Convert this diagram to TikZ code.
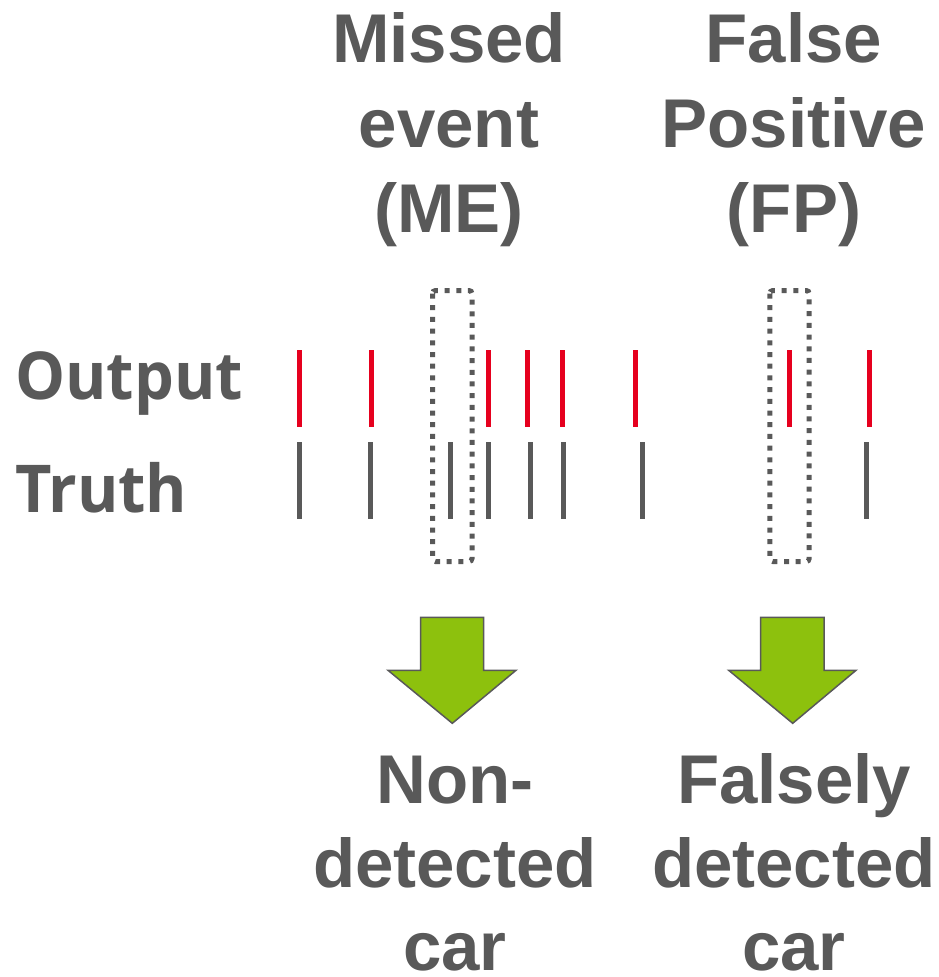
\documentclass[tikz,border=0pt]{standalone}
\usepackage{fontspec}
\setmainfont{Liberation Sans}
\newfontfamily\labelfont[FakeStretch=0.955]{Open Sans}
\definecolor{txtgray}{HTML}{595959}
\definecolor{evtred}{HTML}{E6001E}
\definecolor{arrgreen}{HTML}{8DC10D}
\begin{document}
\begin{tikzpicture}[x=1pt,y=-1pt,
  title/.style={inner sep=0pt,anchor=base,text=txtgray,
    font=\fontsize{69}{85}\selectfont\bfseries},
  rowlabel/.style={inner sep=0pt,anchor=base west,text=txtgray,
    font=\labelfont\fontsize{66}{80}\selectfont\bfseries},
  outtick/.style={draw=evtred,line width=5pt},
  truthtick/.style={draw=txtgray,line width=5pt},
  window/.style={draw=txtgray,line width=5pt,dash pattern=on 5pt off 6.7pt,rounded corners=3pt},
  bigarrow/.style={fill=arrgreen,draw=txtgray,line width=1.5pt,line join=miter}]
\useasboundingbox (0,0) rectangle (939,977);

% column headings
\node[title] (me1) at (449,62) {Missed};
\node[title] (me2) at (449,147) {event};
\node[title] (me3) at (449,232) {(ME)};
\node[title] (fp1) at (794,62) {False};
\node[title] (fp2) at (794,147) {Positive};
\node[title] (fp3) at (794,232) {(FP)};

% row labels
\node[rowlabel] (out) at (15,399) {Output};
\node[rowlabel] (tru) at (15,512) {Truth};

% output events
\foreach \x in {299.5,371.3,488.3,527.3,562.3,635.3,789.3,869.3}
  \draw[outtick] (\x,350) -- (\x,427);
% ground-truth events
\foreach \x in {299.5,370.3,450.3,488.3,530.3,563.3,642.3,866.3}
  \draw[truthtick] (\x,442) -- (\x,518.5);

% highlighted windows
\draw[window] (432.5,290.5) rectangle (472,561.5);
\draw[window] (769.8,290.5) rectangle (809.2,561.5);

% block arrows
\draw[bigarrow] (420.7,617.3) -- (483.7,617.3) -- (483.7,670.3) -- (516,670.3)
  -- (452.3,723.3) -- (388,670.3) -- (420.7,670.3) -- cycle;
\draw[bigarrow] (760.7,617.3) -- (824,617.3) -- (824,670.3) -- (856,670.3)
  -- (792.7,723.3) -- (728.7,670.3) -- (760.7,670.3) -- cycle;

% outcomes
\node[title] (nd1) at (455,803) {Non-};
\node[title] (nd2) at (455,887) {detected};
\node[title] (nd3) at (455,970) {car};
\node[title] (fd1) at (794,803) {Falsely};
\node[title] (fd2) at (794,887) {detected};
\node[title] (fd3) at (794,970) {car};
\end{tikzpicture}
\end{document}
